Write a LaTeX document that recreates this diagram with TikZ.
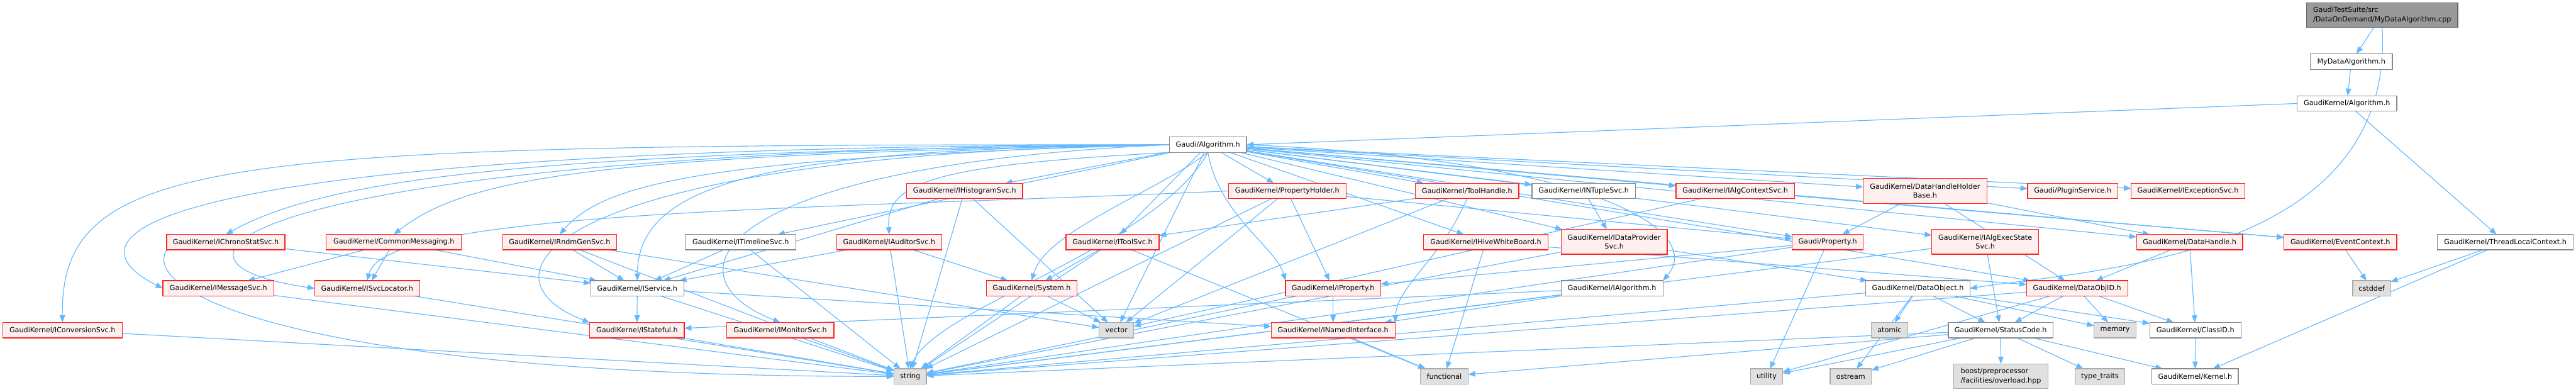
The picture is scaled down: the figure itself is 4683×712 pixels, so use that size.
\documentclass[tikz,border=0pt]{standalone}
\usepackage{fontspec}
\setmainfont{DejaVu Sans}
\usetikzlibrary{arrows.meta}
\definecolor{edgec}{HTML}{63B8FF}
\definecolor{redb}{HTML}{FF2020}
\definecolor{redf}{HTML}{FFF0F0}
\definecolor{docb}{HTML}{888888}
\definecolor{sysb}{HTML}{AAAAAA}
\definecolor{sysf}{HTML}{E0E0E0}
\definecolor{mainf}{HTML}{999999}
\definecolor{mainb}{HTML}{666666}
\pgfdeclarelayer{bg}
\pgfsetlayers{bg,main}
\tikzset{
  nd/.style={draw, line width=1.4pt, minimum height=28pt, inner sep=0pt, outer sep=0pt,
    font=\fontsize{12.8}{16.5}\selectfont, anchor=center, minimum width=#1},
  rn/.style={nd=#1, draw=redb, fill=redf},
  dn/.style={nd=#1, draw=docb, fill=white},
  sn/.style={nd=#1, draw=sysb, fill=sysf},
  tall/.style={minimum height=45pt, align=center},
  e/.style={draw=edgec, line width=1.3pt, -{Triangle[length=13pt,width=10pt]}}
}
\begin{document}
\begin{tikzpicture}[x=1pt,y=-1pt]
\useasboundingbox (0,0) rectangle (4683,712);
% row 0-2
\node[nd=275pt, draw=mainb, fill=mainf, minimum height=45pt, align=left] (main) at (4330.5,27.5) {GaudiTestSuite/src\\/DataOnDemand/MyDataAlgorithm.cpp};
\node[dn=149pt] (mydata) at (4274.5,112) {MyDataAlgorithm.h};
\node[dn=181pt] (gkalg) at (4266.5,188) {GaudiKernel/Algorithm.h};
\node[dn=140pt] (galg) at (2196,263) {Gaudi/Algorithm.h};
% row 347
\node[rn=211pt] (ihist) at (1753.5,347) {GaudiKernel/IHistogramSvc.h};
\node[rn=214pt] (prophold) at (2340,347) {GaudiKernel/PropertyHolder.h};
\node[rn=188pt] (toolh) at (2667,347) {GaudiKernel/ToolHandle.h};
\node[dn=188pt] (ntuple) at (2879,347) {GaudiKernel/INTupleSvc.h};
\node[rn=215pt] (algctx) at (3154.5,347) {GaudiKernel/IAlgContextSvc.h};
\node[rn=225pt, tall] (dhhb) at (3499.5,347) {GaudiKernel/DataHandleHolder\\Base.h};
\node[rn=164pt] (plugin) at (3768,347) {Gaudi/PluginService.h};
\node[rn=207pt] (iexc) at (3977.5,347) {GaudiKernel/IExceptionSvc.h};
% row 440
\node[rn=215pt] (ichrono) at (410.5,440) {GaudiKernel/IChronoStatSvc.h};
\node[rn=246pt] (commsg) at (716,440) {GaudiKernel/CommonMessaging.h};
\node[rn=207pt] (irndm) at (1017.5,440) {GaudiKernel/IRndmGenSvc.h};
\node[dn=201pt] (itimeline) at (1346.5,440) {GaudiKernel/ITimelineSvc.h};
\node[rn=191pt] (iaud) at (1616.5,440) {GaudiKernel/IAuditorSvc.h};
\node[rn=169pt] (itoolsvc) at (2022.5,440) {GaudiKernel/IToolSvc.h};
\node[rn=226pt] (ihive) at (2701,440) {GaudiKernel/IHiveWhiteBoard.h};
\node[rn=193pt, tall] (idp) at (2934.5,439.5) {GaudiKernel/IDataProvider\\Svc.h};
\node[rn=129pt] (gprop) at (3322.5,440) {Gaudi/Property.h};
\node[rn=194pt, tall] (iaes) at (3609,439.5) {GaudiKernel/IAlgExecState\\Svc.h};
\node[rn=193pt] (dh) at (3980.5,440) {GaudiKernel/DataHandle.h};
\node[rn=205pt] (evctx) at (4254.5,440) {GaudiKernel/EventContext.h};
\node[dn=247pt] (tlc) at (4554.5,440) {GaudiKernel/ThreadLocalContext.h};
% row 524
\node[rn=202pt] (imsg) at (397,524) {GaudiKernel/IMessageSvc.h};
\node[rn=191pt] (isvcloc) at (667.5,524) {GaudiKernel/ISvcLocator.h};
\node[dn=169pt] (iservice) at (1158.5,524) {GaudiKernel/IService.h};
\node[rn=165pt] (system) at (1875.5,524) {GaudiKernel/System.h};
\node[rn=173pt] (iprop) at (2423.5,524) {GaudiKernel/IProperty.h};
\node[dn=185pt] (ialg) at (2930.5,524) {GaudiKernel/IAlgorithm.h};
\node[dn=189pt] (dataobj) at (3486.5,524) {GaudiKernel/DataObject.h};
\node[rn=184pt] (dataobjid) at (3776,524) {GaudiKernel/DataObjID.h};
\node[sn=69pt] (cstddef) at (4311.5,524) {cstddef};
% row 600
\node[rn=217pt] (iconv) at (113.5,600) {GaudiKernel/IConversionSvc.h};
\node[rn=172pt] (istateful) at (1158,600) {GaudiKernel/IStateful.h};
\node[rn=195pt] (imon) at (1418.5,600) {GaudiKernel/IMonitorSvc.h};
\node[sn=63pt] (vector) at (2029.5,600) {vector};
\node[rn=225pt] (inamed) at (2423.5,600) {GaudiKernel/INamedInterface.h};
\node[sn=66pt] (atomic) at (3435,600) {atomic};
\node[dn=190pt] (statuscode) at (3637,600) {GaudiKernel/StatusCode.h};
\node[sn=76pt] (memory) at (3845,600) {memory};
\node[dn=166pt] (classid) at (3991,600) {GaudiKernel/ClassID.h};
% row 684
\node[sn=59pt] (string) at (1654.5,684) {string};
\node[sn=87pt] (functional) at (2625.5,684) {functional};
\node[sn=59pt] (utility) at (3211.5,684) {utility};
\node[sn=75pt] (ostream) at (3364.5,684) {ostream};
\node[sn=171pt, minimum height=45pt, align=left] (boost) at (3637.5,683.5) {boost/preprocessor\\/facilities/overload.hpp};
\node[sn=91pt] (typetraits) at (3817.5,684) {type\_traits};
\node[dn=157pt] (kernel) at (3990.5,684) {GaudiKernel/Kernel.h};

\begin{pgfonlayer}{bg}
\fill[white] (0,0) rectangle (4683,712);
% top chain
\draw[e] (main) -- (mydata);
\draw[e] (main.south) .. controls (4355,470) and (3800,490) .. (dataobj.east);
\draw[e] (mydata) -- (gkalg);
\draw[e] (gkalg.west) -- (galg.east);
\draw[e] (gkalg) -- (tlc);
% Gaudi/Algorithm.h
\draw[e] (galg.west) .. controls (400,262) and (110,280) .. (iconv.north);
\draw[e] (galg.west) .. controls (300,265) and (90,420) .. (imsg.west);
\draw[e] (galg.west) .. controls (500,270) and (200,470) .. (isvcloc.west);
\draw[e] (galg.west) .. controls (1000,275) and (600,320) .. (ichrono.north);
\draw[e] (galg.west) .. controls (1100,280) and (850,320) .. (commsg.north);
\draw[e] (galg.west) .. controls (1300,285) and (1100,330) .. (irndm.north);
\draw[e] (galg) -- (itimeline);
\draw[e] (galg.south west) .. controls (1700,300) and (1610,330) .. (iaud.north);
\draw[e] (galg.west) .. controls (1400,270) and (1160,330) .. (iservice.north);
\draw[e] (galg.west) .. controls (1000,280) and (850,500) .. (istateful.north west);
\draw[e] (galg.west) .. controls (1300,300) and (1200,500) .. (imon.north);
\draw[e] (galg.south) .. controls (2100,350) and (1900,420) .. (system.north);
\draw[e] (galg.south) .. controls (2100,450) and (1700,560) .. (string.north);
\draw[e] (galg) -- (vector);
\draw[e] (galg) -- (ihist);
\draw[e] (galg) -- (itoolsvc);
\draw[e] (galg.south) .. controls (2215,390) and (2320,450) .. (iprop.north west);
\draw[e] (galg) -- (prophold);
\draw[e] (galg) -- (toolh);
\draw[e] (galg) -- (ntuple);
\draw[e] (galg) -- (algctx);
\draw[e] (galg) -- (dhhb);
\draw[e] (galg) -- (plugin);
\draw[e] (galg) -- (iexc);
\draw[e] (galg) -- (ihive);
\draw[e] (galg) -- (idp);
\draw[e] (galg) -- (gprop);
\draw[e] (galg) -- (iaes);
\draw[e] (galg) -- (dh);
\draw[e] (galg) -- (evctx);
\draw[e] (galg) -- (dataobjid);
\draw[e] (galg.east) .. controls (2900,290) and (3100,420) .. (ialg.north east);
% PropertyHolder
\draw[e] (prophold) -- (iprop);
\draw[e] (prophold) -- (gprop);
\draw[e] (prophold.west) .. controls (1500,380) and (700,380) .. (isvcloc.north);
\draw[e] (prophold) -- (string);
\draw[e] (prophold) -- (vector);
% ToolHandle
\draw[e] (toolh) -- (itoolsvc);
\draw[e] (toolh) -- (vector);
\draw[e] (toolh.south) .. controls (2620,470) and (2540,520) .. (inamed.north east);
% others row 347
\draw[e] (ntuple) -- (idp);
\draw[e] (algctx) -- (vector);
\draw[e] (algctx) -- (evctx);
\draw[e] (dhhb) -- (gprop);
\draw[e] (dhhb) -- (dh);
\draw[e] (dhhb) -- (dataobjid);
% row 440
\draw[e] (ichrono) -- (iservice);
\draw[e] (ichrono.south west) .. controls (250,540) and (600,685) .. (string.west);
\draw[e] (commsg) -- (imsg);
\draw[e] (commsg) -- (isvcloc);
\draw[e] (commsg) -- (iservice);
\draw[e] (irndm) -- (iservice);
\draw[e] (irndm) -- (string);
\draw[e] (irndm) -- (vector);
\draw[e] (itimeline) -- (iservice);
\draw[e] (itimeline) -- (string);
\draw[e] (iaud) -- (iservice);
\draw[e] (iaud) -- (system);
\draw[e] (iaud) -- (string);
\draw[e] (ihist) -- (iservice);
\draw[e] (ihist) -- (string);
\draw[e] (ihist) -- (vector);
\draw[e] (itoolsvc) -- (system);
\draw[e] (itoolsvc) -- (string);
\draw[e] (itoolsvc) -- (functional);
\draw[e] (ihive) -- (functional);
\draw[e] (ihive) -- (dataobjid);
\draw[e] (idp) -- (string);
\draw[e] (idp) -- (dataobj);
\draw[e] (gprop) -- (iprop);
\draw[e] (gprop) -- (utility);
\draw[e] (gprop) -- (string);
\draw[e] (iaes) -- (statuscode);
\draw[e] (iaes) -- (string);
\draw[e] (dh) -- (dataobjid);
\draw[e] (dh) -- (classid);
\draw[e] (evctx) -- (cstddef);
\draw[e] (tlc) -- (cstddef);
\draw[e] (tlc) -- (kernel);
% row 524
\draw[e] (imsg) -- (string);
\draw[e] (isvcloc) -- (string);
\draw[e] (iservice) -- (istateful);
\draw[e] (iservice) -- (inamed);
\draw[e] (iservice) -- (string);
\draw[e] (system) -- (vector);
\draw[e] (system) -- (string);
\draw[e] (iprop) -- (inamed);
\draw[e] (iprop) -- (string);
\draw[e] (ialg) -- (inamed);
\draw[e] (ialg) -- (istateful);
\draw[e] (ialg) -- (string);
\draw[e] (dataobj) -- (atomic);
\draw[e] (dataobj) -- (statuscode);
\draw[e] (dataobj) -- (memory);
\draw[e] (dataobj) -- (classid);
\draw[e] (dataobj) -- (string);
\draw[e] (dataobj) -- (ostream);
\draw[e] (dataobjid) -- (statuscode);
\draw[e] (dataobjid) -- (memory);
\draw[e] (dataobjid) -- (classid);
\draw[e] (dataobjid) -- (utility);
\draw[e] (dataobjid) -- (string);
% row 600
\draw[e] (iconv) -- (string);
\draw[e] (istateful) -- (string);
\draw[e] (imon) -- (string);
\draw[e] (inamed) -- (functional);
\draw[e] (statuscode) -- (utility);
\draw[e] (statuscode) -- (ostream);
\draw[e] (statuscode) -- (boost);
\draw[e] (statuscode) -- (typetraits);
\draw[e] (statuscode) -- (kernel);
\draw[e] (statuscode) -- (functional);
\draw[e] (statuscode) -- (string);
\draw[e] (classid) -- (kernel);
\end{pgfonlayer}
\end{tikzpicture}
\end{document}
